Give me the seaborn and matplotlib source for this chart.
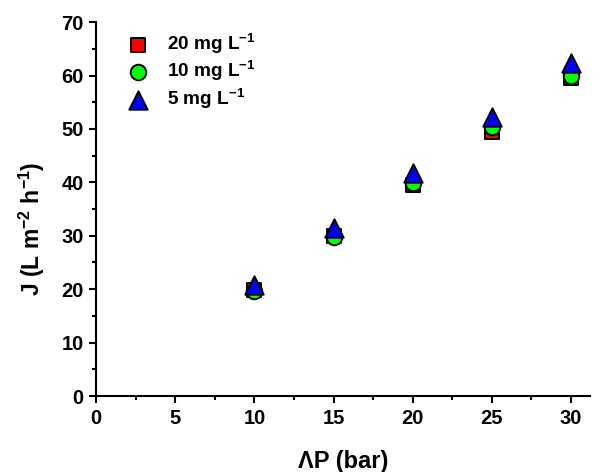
import matplotlib
matplotlib.use("Agg")
import matplotlib.pyplot as plt
from matplotlib.ticker import MultipleLocator
import seaborn as sns
import pandas as pd

# data
pressure = [10, 15, 20, 25, 30]
j_20 = [19.8, 30.0, 39.5, 49.4, 59.5]
j_10 = [19.6, 29.8, 39.8, 50.4, 60.0]
j_5 = [20.7, 31.5, 41.8, 52.3, 62.4]
series = ["20 mg L$^{\\mathbf{-1}}$", "10 mg L$^{\\mathbf{-1}}$", "5 mg L$^{\\mathbf{-1}}$"]

df = pd.concat([
    pd.DataFrame({"dp": pressure, "J": j_20, "conc": series[0]}),
    pd.DataFrame({"dp": pressure, "J": j_10, "conc": series[1]}),
    pd.DataFrame({"dp": pressure, "J": j_5, "conc": series[2]}),
], ignore_index=True)

sns.set_style("ticks")
plt.rcParams["font.family"] = ["Liberation Sans", "DejaVu Sans"]
plt.rcParams["font.weight"] = "bold"
plt.rcParams["axes.labelweight"] = "bold"
plt.rcParams["text.color"] = "black"
plt.rcParams["axes.labelcolor"] = "black"
plt.rcParams["axes.edgecolor"] = "black"
plt.rcParams["xtick.color"] = "black"
plt.rcParams["ytick.color"] = "black"
plt.rcParams["mathtext.fontset"] = "custom"
plt.rcParams["mathtext.rm"] = "Liberation Sans:bold"
plt.rcParams["mathtext.bf"] = "Liberation Sans:bold"
plt.rcParams["mathtext.default"] = "bf"

fig = plt.figure(figsize=(5.93, 4.72), dpi=100)
ax = fig.add_axes([0.162, 0.161, 0.833, 0.792])

palette = {series[0]: "#ff0000", series[1]: "#00ff00", series[2]: "#0000ff"}
markers = {series[0]: "s", series[1]: "o", series[2]: "^"}
sizes = {series[0]: 105, series[1]: 125, series[2]: 175}

for name in series:
    sub = df[df["conc"] == name]
    sns.scatterplot(data=sub, x="dp", y="J", color=palette[name], marker=markers[name],
                    s=sizes[name], edgecolor="black", linewidth=1.4, label=name, ax=ax,
                    zorder=3)

ax.set_xlim(0, 31.2)
ax.set_ylim(0, 70)
ax.xaxis.set_major_locator(MultipleLocator(5))
ax.xaxis.set_minor_locator(MultipleLocator(2.5))
ax.yaxis.set_major_locator(MultipleLocator(10))
ax.yaxis.set_minor_locator(MultipleLocator(5))
ax.tick_params(which="major", length=5, width=1.5, labelsize=14.5, direction="out", pad=4)
ax.tick_params(which="minor", length=3, width=1.5, direction="out")
for lab in ax.get_xticklabels() + ax.get_yticklabels():
    lab.set_fontweight("bold")

ax.spines["top"].set_visible(False)
ax.spines["right"].set_visible(False)
ax.spines["left"].set_linewidth(1.5)
ax.spines["bottom"].set_linewidth(1.5)

ax.set_xlabel("ΛP (bar)", fontsize=17, fontweight="bold", labelpad=16)
ax.set_ylabel("J (L m$^{\\mathbf{-2}}$ h$^{\\mathbf{-1}}$)", fontsize=16.5, fontweight="bold")
ax.yaxis.set_label_coords(-0.10, 0.447)

ax.legend(loc="upper left", bbox_to_anchor=(0.0235, 1.005), frameon=False,
          prop={"size": 13.7, "weight": "bold"}, handletextpad=0.5, labelspacing=0.17,
          borderaxespad=0.2)

fig.savefig("out.png", dpi=100)
